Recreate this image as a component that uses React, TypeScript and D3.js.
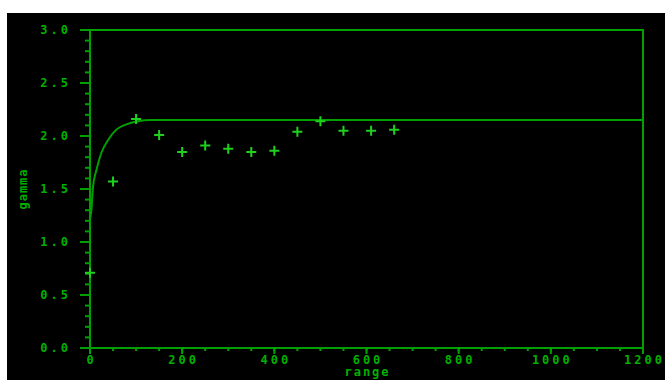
import React from "react";
import * as d3 from "d3";

// Experimental semivariogram (lag distance vs. gamma)
const lagDistance = [0, 50, 100, 150, 200, 250, 300, 350, 400, 450, 500, 550, 610, 660];
const gammaValues = [0.71, 1.57, 2.16, 2.01, 1.85, 1.91, 1.88, 1.85, 1.86, 2.04, 2.14, 2.05, 2.05, 2.06];

// Fitted model curve, sampled along the lag axis
const modelLag = [0, 3, 6.5, 14, 24.5, 39, 57, 79, 104, 133, 200, 400, 800, 1200];
const modelGamma = [1.22, 1.3, 1.52, 1.68, 1.84, 1.96, 2.06, 2.11, 2.14, 2.15, 2.15, 2.15, 2.15, 2.15];

const xTicks = [0, 200, 400, 600, 800, 1000, 1200];
const xMinorTicks = d3.range(0, 1201, 50);
const yTicks = [0, 0.5, 1.0, 1.5, 2.0, 2.5, 3.0];
const yMinorTicks = d3.range(0, 30.5, 1).map((v) => v / 10);

const W = 665;
const H = 380;
const left = 90;
const right = 643;
const top = 30;
const bottom = 348;

const AXIS = "#00a000";
const TEXT = "#00b000";
const MARK = "#1fd01f";
const FONT = "'DejaVu Sans Mono', monospace";

export default function App() {
  const x = d3.scaleLinear().domain([0, 1200]).range([left, right]);
  const y = d3.scaleLinear().domain([0, 3]).range([bottom, top]);

  const line = d3
    .line<number>()
    .x((_, i) => x(modelLag[i]))
    .y((d) => y(d))
    .curve(d3.curveMonotoneX);

  return (
    <svg
      width={W}
      height={H}
      style={{ position: "absolute", left: 0, top: 0, background: "#fff" }}
    >
      <rect x={7} y={13} width={W - 7} height={H - 13} fill="#000" />

      {/* frame */}
      <path
        d={`M${left - 10},${top}H${right}V${bottom}H${left - 10}`}
        fill="none"
        stroke={AXIS}
        strokeWidth={2}
      />
      <line x1={left} x2={left} y1={top} y2={bottom + 6} stroke={AXIS} strokeWidth={2} />

      {/* y ticks */}
      {yMinorTicks.map((t) => (
        <line key={"ym" + t} x1={left - 5} x2={left} y1={y(t)} y2={y(t)} stroke={AXIS} strokeWidth={2} />
      ))}
      {yTicks.map((t) => (
        <g key={"y" + t}>
          <line x1={left - 10} x2={left} y1={y(t)} y2={y(t)} stroke={AXIS} strokeWidth={2} />
          <text
            x={71}
            y={y(t)}
            dy="0.36em"
            textAnchor="end"
            fill={TEXT}
            fontFamily={FONT}
            fontSize={12}
            fontWeight="bold"
            letterSpacing={3}
          >
            {t.toFixed(1)}
          </text>
        </g>
      ))}

      {/* x ticks */}
      {xMinorTicks.map((t) => (
        <line key={"xm" + t} x1={x(t)} x2={x(t)} y1={bottom} y2={bottom + 3} stroke={AXIS} strokeWidth={2} />
      ))}
      {xTicks.map((t) => (
        <g key={"x" + t}>
          <line x1={x(t)} x2={x(t)} y1={bottom} y2={bottom + 6} stroke={AXIS} strokeWidth={2} />
          <text
            x={x(t) + 1.5}
            y={363.5}
            textAnchor="middle"
            fill={TEXT}
            fontFamily={FONT}
            fontSize={12}
            fontWeight="bold"
            letterSpacing={3}
          >
            {String(t)}
          </text>
        </g>
      ))}

      {/* axis titles */}
      <text
        x={(left + right) / 2 + 1}
        y={376}
        textAnchor="middle"
        fill={TEXT}
        fontFamily={FONT}
        fontSize={12}
        fontWeight="bold"
        letterSpacing={2}
      >
        range
      </text>
      <text
        transform={`translate(27,${(top + bottom) / 2}) rotate(-90)`}
        textAnchor="middle"
        fill={TEXT}
        fontFamily={FONT}
        fontSize={12}
        fontWeight="bold"
        letterSpacing={1}
      >
        gamma
      </text>

      {/* model curve */}
      <path d={line(modelGamma) ?? ""} fill="none" stroke={AXIS} strokeWidth={2} />

      {/* experimental points */}
      {lagDistance.map((lag, i) => {
        const cx = x(lag);
        const cy = y(gammaValues[i]);
        return (
          <path
            key={"p" + i}
            d={`M${cx - 5},${cy}H${cx + 5}M${cx},${cy - 5}V${cy + 5}`}
            stroke={MARK}
            strokeWidth={2}
          />
        );
      })}
    </svg>
  );
}
